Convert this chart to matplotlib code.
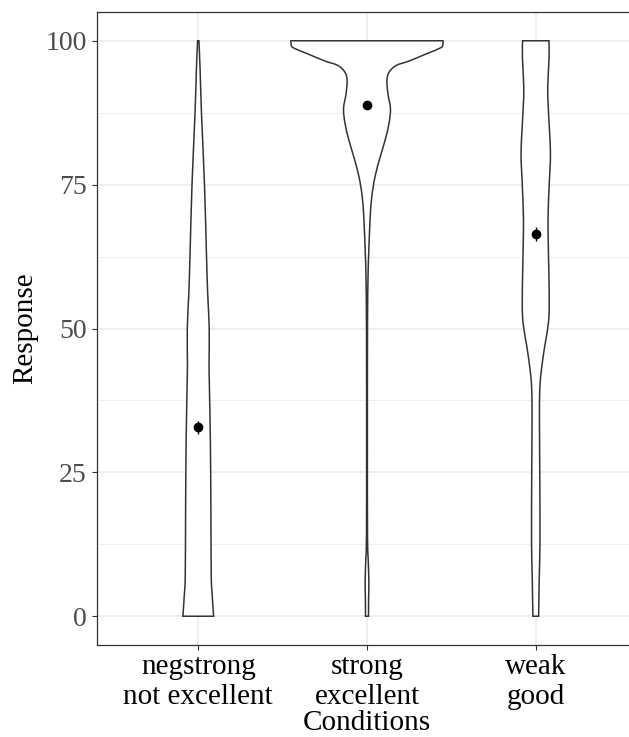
import numpy as np
import matplotlib
matplotlib.use('Agg')
import matplotlib.pyplot as plt
from matplotlib.path import Path
from matplotlib.patches import PathPatch

# categories (x tick labels) and summary points
conditions = ["negstrong\nnot excellent", "strong\nexcellent", "weak\ngood"]
means = [32.8, 88.9, 66.4]
se = [1.15, 0.6, 1.2]

# violin outlines: response value -> half width (category units)
neg_y = [0, 3.5, 7, 18, 30, 40, 44, 50, 56, 62.5, 75, 87.5, 95, 100]
neg_w = [0.091, 0.083, 0.077, 0.075, 0.072, 0.066, 0.064, 0.065, 0.056, 0.049, 0.037, 0.019, 0.011, 0.004]

strong_y = [0, 3, 6, 10, 14, 30, 50, 58.9, 63, 68.8, 72.8, 76.3, 79.7, 82.7, 85.6, 88.2, 90.8,
            93.1, 94.5, 95.7, 96.5, 97.7, 98.8, 99.5, 100]
strong_w = [0.009, 0.0095, 0.011, 0.007, 0.003, 0.0024, 0.003, 0.006, 0.010, 0.018, 0.028, 0.047,
            0.077, 0.107, 0.130, 0.139, 0.124, 0.118, 0.130, 0.172, 0.251, 0.349, 0.438, 0.450, 0.451]

weak_y = [0, 7, 13, 24, 34, 39.5, 42.7, 46.7, 50.7, 54, 60.6, 66.7, 70.6, 75.2, 80.6, 88, 92, 97, 100]
weak_w = [0.017, 0.021, 0.025, 0.024, 0.022, 0.024, 0.033, 0.052, 0.074, 0.080, 0.077, 0.073,
          0.074, 0.080, 0.087, 0.075, 0.071, 0.079, 0.078]

violins = [(neg_y, neg_w), (strong_y, strong_w), (weak_y, weak_w)]


def smooth_side(pts):
    # bezier control points so the outline passes smoothly through the read points
    pts = np.asarray(pts, dtype=float)
    ext = np.vstack([pts[0], pts, pts[-1]])
    verts = []
    for i in range(1, len(ext) - 2):
        p0, p1, p2, p3 = ext[i - 1], ext[i], ext[i + 1], ext[i + 2]
        verts += [p1 + (p2 - p0) / 6, p2 - (p3 - p1) / 6, p2]
    return verts


def violin_path(pos, vy, vw):
    vy = np.array(vy)
    vw = np.array(vw)
    left = np.column_stack([pos - vw, vy])
    right = np.column_stack([pos + vw, vy])[::-1]
    lv = smooth_side(left)
    rv = smooth_side(right)
    verts = [left[0]] + lv + [right[0]] + rv + [left[0]]
    codes = ([Path.MOVETO] + [Path.CURVE4] * len(lv) + [Path.LINETO]
             + [Path.CURVE4] * len(rv) + [Path.CLOSEPOLY])
    return Path(verts, codes)


plt.rcParams['font.family'] = ['Liberation Serif', 'DejaVu Serif']

fig = plt.figure(figsize=(6.29, 7.37), dpi=100)
ax = fig.add_axes([97 / 629, (737 - 645) / 737, 540 / 629, 633 / 737])

for i, (vy, vw) in enumerate(violins):
    patch = PathPatch(violin_path(i + 1, vy, vw), facecolor='white',
                      edgecolor='#333333', lw=1.1, zorder=3)
    ax.add_patch(patch)

ax.errorbar([1, 2, 3], means, yerr=se, fmt='o', color='black', ms=6,
            elinewidth=1.0, capsize=0, zorder=5)

ax.set_xlim(0.4, 3.6)
ax.set_ylim(-5, 105)
ax.set_xticks([1, 2, 3])
ax.set_xticklabels(conditions)
ax.set_yticks([0, 25, 50, 75, 100])
ax.set_yticks([12.5, 37.5, 62.5, 87.5], minor=True)

ax.grid(which='major', color='#EBEBEB', lw=1.1, zorder=0)
ax.grid(which='minor', axis='y', color='#EBEBEB', lw=0.55, zorder=0)
ax.set_axisbelow(True)

ax.tick_params(axis='y', which='major', labelsize=20, labelcolor='#4D4D4D',
               color='#333333', length=3.6, width=0.8, pad=3.6)
ax.tick_params(axis='x', which='major', labelsize=21, labelcolor='black',
               color='#333333', length=3.6, width=0.8, pad=3)
ax.tick_params(which='minor', length=0)
for s in ax.spines.values():
    s.set_color('#333333')
    s.set_linewidth(0.9)

fig.text(25 / 629, 1 - 328 / 737, "Response", rotation=90, ha='center', va='center', fontsize=21)
fig.text(367 / 629, 1 - 730 / 737, "Conditions", ha='center', va='baseline', fontsize=21)

fig.savefig('out.png', dpi=100)
